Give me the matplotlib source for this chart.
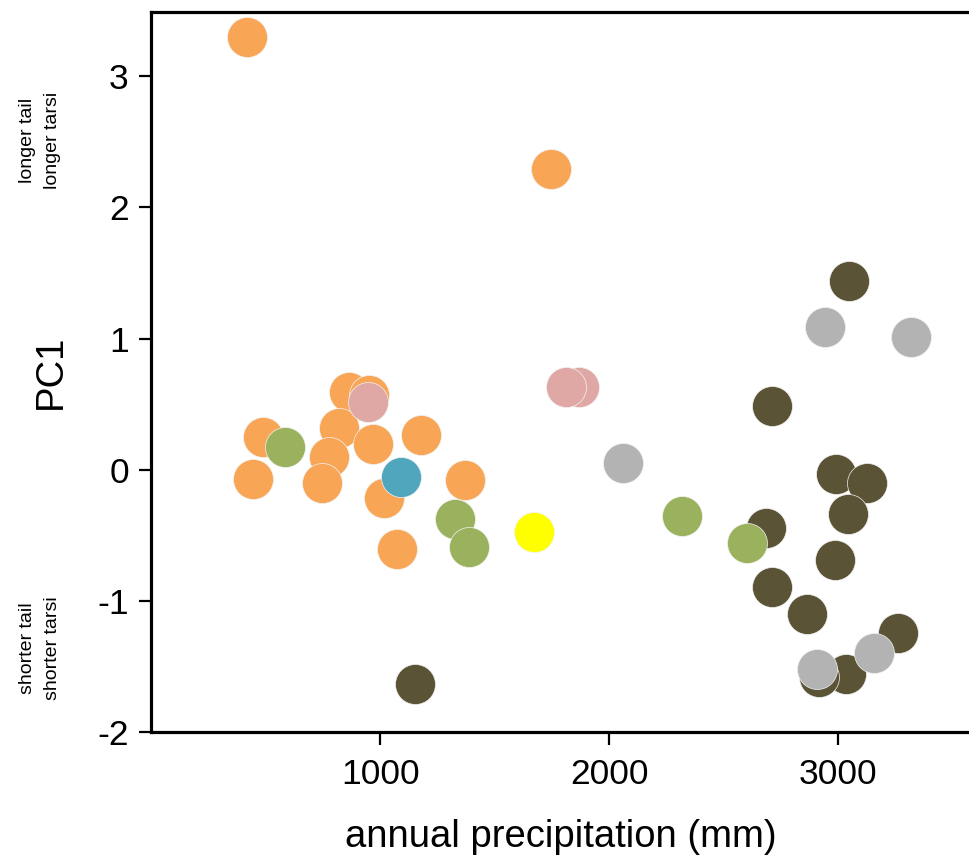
import matplotlib
matplotlib.use("Agg")
import matplotlib.pyplot as plt

plt.rcParams['font.family'] = ['Liberation Sans', 'DejaVu Sans']

# annual precipitation (mm) and PC1 scores per group
orange_x = [420, 1744, 487, 447, 866, 953, 822, 779, 747, 968, 1179, 1016, 1372, 1074]
orange_y = [3.30, 2.29, 0.246, -0.072, 0.594, 0.569, 0.315, 0.098, -0.104, 0.193, 0.264, -0.219, -0.079, -0.607]

olive_x = [3049, 2712, 2991, 3125, 3042, 2686, 2984, 2710, 2865, 3260, 3035, 2918, 1154]
olive_y = [1.437, 0.487, -0.036, -0.105, -0.338, -0.448, -0.689, -0.892, -1.103, -1.248, -1.558, -1.578, -1.634]

green_x = [586, 1329, 1387, 2317, 2603]
green_y = [0.175, -0.379, -0.592, -0.351, -0.557]

grey_x = [2062, 2940, 3316, 2908, 3154]
grey_y = [0.048, 1.089, 1.013, -1.52, -1.40]

pink_x = [1870, 1812, 946]
pink_y = [0.627, 0.632, 0.518]

blue_x = [1092]
blue_y = [-0.054]

yellow_x = [1671]
yellow_y = [-0.478]

groups = [
    (orange_x, orange_y, '#F8A656'),
    (olive_x, olive_y, '#5A5335'),
    (green_x, green_y, '#9AB25D'),
    (grey_x, grey_y, '#B3B3B3'),
    (pink_x, pink_y, '#DFA8A4'),
    (blue_x, blue_y, '#50A6BD'),
    (yellow_x, yellow_y, '#FFFF00'),
]

fig = plt.figure(figsize=(9.7, 8.58), dpi=100)
ax = fig.add_axes([151/970, 126/858, 1 - 151/970, 720/858])

for xs, ys, col in groups:
    ax.scatter(xs, ys, s=830, c=col, edgecolors='#F2F2F2', linewidths=0.5, zorder=3)

ax.set_xlim(0, 3575)
ax.set_ylim(-2, 3.49)
ax.set_xticks([1000, 2000, 3000])
ax.set_yticks([-2, -1, 0, 1, 2, 3])
ax.set_yticklabels(['-2', '-1', '0', '1', '2', '3'])

ax.spines['right'].set_visible(False)
for s in ['left', 'bottom', 'top']:
    ax.spines[s].set_linewidth(2.3)
ax.tick_params(direction='out', length=9, width=1.6, labelsize=25.5, pad=7)
ax.tick_params(axis='x', pad=10)

ax.set_xlabel('annual precipitation (mm)', fontsize=27.5, labelpad=20)
ax.set_ylabel('PC1', fontsize=27.5, labelpad=20)

side_font = ['Liberation Sans Narrow', 'Liberation Sans']
fig.text(40/970, 1 - 140/858, 'longer tail\nlonger tarsi', rotation=90,
         ha='center', va='center', fontsize=14, family=side_font, linespacing=1.55)
fig.text(40/970, 1 - 648/858, 'shorter tail\nshorter tarsi', rotation=90,
         ha='center', va='center', fontsize=14, family=side_font, linespacing=1.55)

fig.savefig('out.png', dpi=100)
